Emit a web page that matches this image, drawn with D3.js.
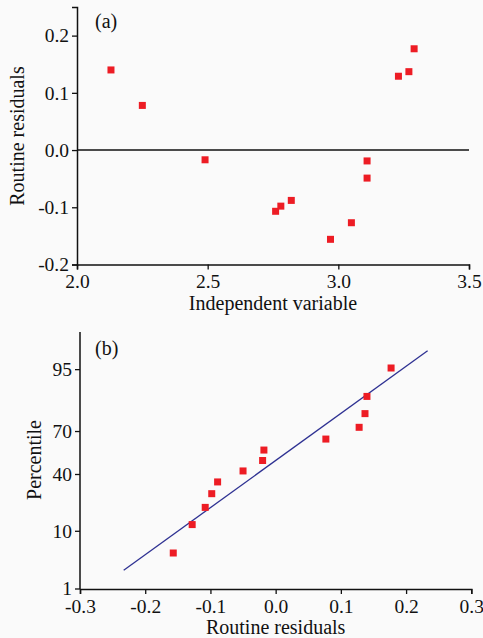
<!DOCTYPE html>
<html>
<head>
<meta charset="utf-8">
<script src="https://cdn.jsdelivr.net/npm/d3@7"></script>
<style>
  html, body { margin: 0; padding: 0; background: #fafafa; }
  svg { display: block; }
  text { font-family: "Liberation Serif", "Times New Roman", serif; fill: #111; }
</style>
</head>
<body>
<div class="Graph"></div>
<script>
// panel (a): residual vs independent variable
const indepVar = [2.13, 2.25, 2.49, 2.76, 2.78, 2.82, 2.97, 3.05, 3.11, 3.11, 3.23, 3.27, 3.29];
const residualsA = [0.140, 0.078, -0.017, -0.107, -0.098, -0.088, -0.156, -0.127, -0.019, -0.049, 0.129, 0.137, 0.177];
const xTicksA = [2.0, 2.5, 3.0, 3.5];
const yTicksA = [-0.2, -0.1, 0.0, 0.1, 0.2];

// panel (b): normal probability plot
const sortedResiduals = [-0.157, -0.128, -0.108, -0.098, -0.089, -0.050, -0.020, -0.018, 0.077, 0.128, 0.137, 0.140, 0.177];
const percentiles = [4.7, 12.3, 19.8, 27.4, 34.9, 42.5, 50.0, 57.5, 65.1, 72.6, 80.2, 87.7, 95.3];
const fitX = [-0.233, 0.233];
const fitP = [2.34, 97.66];
const xTicksB = [-0.3, -0.2, -0.1, 0.0, 0.1, 0.2, 0.3];
const yTicksB = [1, 10, 40, 70, 95];

const RED = "#ed1c24", BLUE = "#2e3192";
const SQ = 7;

// inverse normal cdf (Acklam), used for the percentile axis
function probit(p) {
  const a = [-39.69683028665376, 220.9460984245205, -275.9285104469687, 138.3577518672690, -30.66479806614716, 2.506628277459239];
  const b = [-54.47609879822406, 161.5858368580409, -155.6989798598866, 66.80131188771972, -13.28068155288572];
  const c = [-0.007784894002430293, -0.3223964580411365, -2.400758277161838, -2.549732539343734, 4.374664141464968, 2.938163982698783];
  const d = [0.007784695709041462, 0.3224671290700398, 2.445134137142996, 3.754408661907416];
  const pl = 0.02425;
  let q, r;
  if (p < pl) {
    q = Math.sqrt(-2 * Math.log(p));
    return (((((c[0]*q+c[1])*q+c[2])*q+c[3])*q+c[4])*q+c[5]) / ((((d[0]*q+d[1])*q+d[2])*q+d[3])*q+1);
  } else if (p <= 1 - pl) {
    q = p - 0.5; r = q * q;
    return (((((a[0]*r+a[1])*r+a[2])*r+a[3])*r+a[4])*r+a[5])*q / (((((b[0]*r+b[1])*r+b[2])*r+b[3])*r+b[4])*r+1);
  }
  q = Math.sqrt(-2 * Math.log(1 - p));
  return -(((((c[0]*q+c[1])*q+c[2])*q+c[3])*q+c[4])*q+c[5]) / ((((d[0]*q+d[1])*q+d[2])*q+d[3])*q+1);
}

const svg = d3.select(".Graph").append("svg")
  .attr("width", 483).attr("height", 638);

function styleAxis(g) {
  g.selectAll("path.domain").attr("stroke", "#111").attr("stroke-width", 1.5);
  g.selectAll(".tick line").attr("stroke", "#111").attr("stroke-width", 1.3);
  g.selectAll(".tick text").style("font-size", "19.5px").attr("fill", "#111");
}

//==================== panel (a)
let xa = d3.scaleLinear().domain([2.0, 3.5]).range([77, 469]);
let ya = d3.scaleLinear().domain([-0.2, 0.25]).range([264.5, 7]);

svg.append("g")
  .attr("transform", "translate(0,264.5)")
  .call(d3.axisBottom(xa).tickValues(xTicksA).tickFormat(d3.format(".1f")).tickSizeOuter(0).tickSize(5).tickPadding(5))
  .call(styleAxis);
svg.append("g")
  .attr("transform", "translate(77,0)")
  .call(d3.axisLeft(ya).tickValues(yTicksA).tickFormat(d3.format(".1f")).tickSizeOuter(0).tickSize(5).tickPadding(3))
  .call(styleAxis)
  .selectAll(".tick text").text(d => d3.format(".1f")(d).replace("−", "-"));

// zero line
svg.append("line")
  .attr("x1", xa(2.0)).attr("x2", xa(3.5))
  .attr("y1", ya(0)).attr("y2", ya(0))
  .attr("stroke", "#111").attr("stroke-width", 1.5);

svg.selectAll(".ptA")
  .data(indepVar)
  .enter().append("rect")
  .attr("class", "ptA")
  .attr("x", (d, i) => xa(d) - SQ / 2)
  .attr("y", (d, i) => ya(residualsA[i]) - SQ / 2)
  .attr("width", SQ).attr("height", SQ)
  .attr("fill", RED);

svg.append("text").attr("x", 95).attr("y", 28).style("font-size", "20px").text("(a)");
svg.append("text").attr("x", 273).attr("y", 309.5).attr("text-anchor", "middle")
  .style("font-size", "20px").text("Independent variable");
svg.append("text").attr("transform", "translate(24,136) rotate(-90)").attr("text-anchor", "middle")
  .style("font-size", "20px").text("Routine residuals");

//==================== panel (b)
let xb = d3.scaleLinear().domain([-0.3, 0.3]).range([80, 471.3]);
let zb = d3.scaleLinear().domain([probit(0.01), probit(0.99)]).range([589, 332]);
const yb = p => zb(probit(p / 100));

svg.append("g")
  .attr("transform", "translate(0,589)")
  .call(d3.axisBottom(xb).tickValues(xTicksB).tickFormat(d3.format(".1f")).tickSizeOuter(0).tickSize(5).tickPadding(5))
  .call(styleAxis)
  .selectAll(".tick text").text(d => d3.format(".1f")(d).replace("−", "-"));

let gyb = svg.append("g").attr("transform", "translate(80,0)");
gyb.append("line").attr("x1", 0).attr("x2", 0).attr("y1", 332).attr("y2", 589)
  .attr("stroke", "#111").attr("stroke-width", 1.5);
gyb.selectAll(".tk").data(yTicksB).enter().append("line")
  .attr("x1", -5).attr("x2", 0).attr("y1", d => yb(d)).attr("y2", d => yb(d))
  .attr("stroke", "#111").attr("stroke-width", 1.3);
gyb.selectAll(".tl").data(yTicksB).enter().append("text")
  .attr("x", -8).attr("y", d => yb(d)).attr("dy", "0.32em")
  .attr("text-anchor", "end").style("font-size", "19.5px").text(d => d);

// fitted normal line
svg.append("line")
  .attr("x1", xb(fitX[0])).attr("y1", yb(fitP[0]))
  .attr("x2", xb(fitX[1])).attr("y2", yb(fitP[1]))
  .attr("stroke", BLUE).attr("stroke-width", 1.3);

svg.selectAll(".ptB")
  .data(sortedResiduals)
  .enter().append("rect")
  .attr("class", "ptB")
  .attr("x", d => xb(d) - SQ / 2)
  .attr("y", (d, i) => yb(percentiles[i]) - SQ / 2)
  .attr("width", SQ).attr("height", SQ)
  .attr("fill", RED);

svg.append("text").attr("x", 95).attr("y", 355).style("font-size", "20px").text("(b)");
svg.append("text").attr("x", 275.7).attr("y", 633.5).attr("text-anchor", "middle")
  .style("font-size", "20px").text("Routine residuals");
svg.append("text").attr("transform", "translate(41,460) rotate(-90)").attr("text-anchor", "middle")
  .style("font-size", "20px").text("Percentile");
</script>
</body>
</html>
